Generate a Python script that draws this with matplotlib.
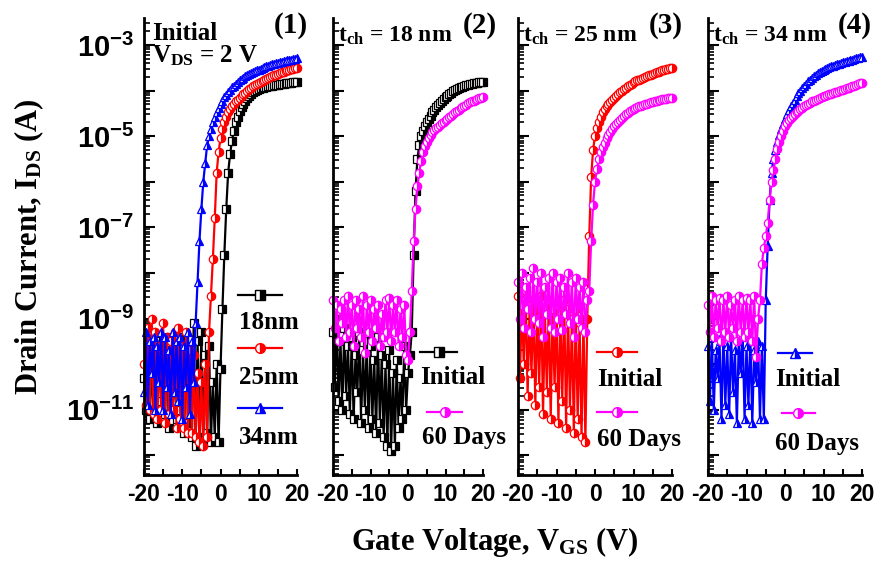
import numpy as np
import matplotlib
matplotlib.use('Agg')
import matplotlib.pyplot as plt
from matplotlib.ticker import FixedLocator, LogLocator, MultipleLocator, FuncFormatter, NullFormatter

plt.rcParams['font.family'] = 'Liberation Serif'
plt.rcParams['font.weight'] = 'bold'
plt.rcParams['axes.labelweight'] = 'bold'
plt.rcParams['axes.unicode_minus'] = False
plt.rcParams['mathtext.fontset'] = 'custom'
plt.rcParams['mathtext.rm'] = 'Liberation Serif:bold'
plt.rcParams['mathtext.it'] = 'Liberation Serif:bold'
plt.rcParams['mathtext.bf'] = 'Liberation Serif:bold'
plt.rcParams['mathtext.sf'] = 'Liberation Sans:bold'
plt.rcParams['mathtext.default'] = 'rm'

# gate voltage sweep (V), 0.5 V steps
vgs = np.arange(-20, 20.25, 0.5)

# log10 of drain current (A); each row covers 5 V (-20..-15.5, -15..-10.5, ...), last value at 20 V
# panel 1, initial devices
ids_18nm_p1 = [-10.3, -11.0, -9.6, -11.2, -10.0, -11.0, -9.8, -11.3, -9.5, -10.8,
               -9.9, -11.1, -9.7, -11.4, -9.4, -11.0, -10.1, -11.2, -9.7, -11.0,
               -9.4, -11.5, -9.6, -11.3, -9.8, -11.6, -9.1, -11.8, -9.5, -11.6,
               -9.3, -11.7, -9.8, -11.5, -9.6, -11.7, -10.4, -11.6, -10.0, -11.7,
               -10.1, -8.8, -7.6, -6.6, -5.8, -5.4, -5.1, -4.88, -4.7, -4.57,
               -4.45, -4.36, -4.29, -4.22, -4.16, -4.11, -4.07, -4.04, -4.01, -3.99,
               -3.97, -3.955, -3.94, -3.93, -3.92, -3.91, -3.9, -3.89, -3.88, -3.875,
               -3.87, -3.86, -3.855, -3.85, -3.84, -3.835, -3.83, -3.825, -3.82, -3.815,
               -3.81]
ids_25nm_p1 = [-10.0, -10.9, -9.2, -11.0, -9.0, -11.1, -9.3, -11.2, -9.6, -11.0,
               -9.1, -11.3, -9.4, -11.1, -9.5, -11.0, -9.3, -11.4, -9.2, -11.2,
               -9.6, -11.4, -9.3, -11.5, -9.7, -11.5, -9.8, -11.6, -10.2, -11.7,
               -10.4, -11.8, -10.0, -11.6, -9.3, -8.5, -7.7, -6.8, -5.8, -5.35,
               -5.05, -4.85, -4.7, -4.58, -4.48, -4.41, -4.34, -4.29, -4.24, -4.2,
               -4.16, -4.12, -4.08, -4.045, -4.01, -3.975, -3.94, -3.91, -3.88, -3.855,
               -3.83, -3.81, -3.79, -3.77, -3.75, -3.73, -3.71, -3.69, -3.67, -3.655,
               -3.64, -3.62, -3.6, -3.585, -3.57, -3.56, -3.55, -3.535, -3.52, -3.51,
               -3.5]
ids_34nm_p1 = [-10.6, -9.3, -10.9, -9.5, -10.2, -9.4, -11.0, -9.6, -10.4, -9.3,
               -11.0, -9.4, -10.5, -9.7, -11.1, -9.3, -10.6, -9.5, -10.8, -9.4,
               -11.2, -9.6, -10.5, -9.3, -11.1, -9.5, -10.4, -9.1, -8.2, -7.3,
               -6.6, -6.0, -5.6, -5.2, -5.0, -4.84, -4.7, -4.58, -4.47, -4.38,
               -4.3, -4.22, -4.15, -4.09, -4.03, -3.98, -3.93, -3.89, -3.85, -3.81,
               -3.78, -3.75, -3.72, -3.69, -3.66, -3.64, -3.62, -3.6, -3.58, -3.56,
               -3.54, -3.52, -3.5, -3.485, -3.47, -3.455, -3.44, -3.425, -3.41, -3.4,
               -3.39, -3.38, -3.37, -3.36, -3.35, -3.34, -3.33, -3.32, -3.31, -3.3,
               -3.29]

# panels 2-4, initial vs after 60 days
ids_18nm_init = [-9.3, -10.5, -9.0, -10.8, -9.5, -11.0, -9.2, -10.7, -9.6, -11.1,
                 -9.4, -11.2, -9.8, -10.6, -9.3, -11.3, -9.7, -11.0, -9.5, -11.4,
                 -9.6, -11.2, -9.9, -11.5, -9.4, -11.3, -9.8, -11.6, -10.0, -11.8,
                 -9.7, -11.9, -10.2, -11.8, -9.9, -11.4, -10.3, -11.2, -9.6, -11.0,
                 -10.2, -9.8, -9.3, -7.6, -6.2, -5.5, -5.2, -5.0, -4.88, -4.78,
                 -4.7, -4.62, -4.55, -4.48, -4.42, -4.37, -4.32, -4.27, -4.22, -4.18,
                 -4.15, -4.11, -4.08, -4.05, -4.02, -3.995, -3.97, -3.95, -3.93, -3.915,
                 -3.9, -3.885, -3.87, -3.86, -3.85, -3.84, -3.83, -3.825, -3.82, -3.815,
                 -3.81]
ids_18nm_60d = [-8.6, -9.2, -8.7, -9.5, -8.8, -9.1, -8.6, -9.4, -8.5, -9.3,
                -8.7, -9.6, -8.6, -9.2, -8.8, -9.4, -8.5, -9.75, -8.7, -9.3,
                -8.6, -9.5, -8.8, -9.2, -8.7, -9.6, -8.9, -9.4, -8.6, -9.3,
                -8.55, -9.5, -8.7, -9.3, -8.6, -9.6, -8.8, -9.4, -8.7, -9.8,
                -9.9, -9.3, -8.4, -7.3, -6.6, -6.1, -5.8, -5.55, -5.35, -5.22,
                -5.12, -5.05, -4.98, -4.92, -4.87, -4.83, -4.79, -4.75, -4.71, -4.68,
                -4.65, -4.62, -4.58, -4.55, -4.51, -4.48, -4.45, -4.42, -4.39, -4.36,
                -4.33, -4.31, -4.28, -4.26, -4.24, -4.22, -4.2, -4.18, -4.17, -4.155,
                -4.14]
ids_25nm_init = [-8.5, -10.3, -8.7, -10.0, -8.4, -10.7, -8.8, -10.2, -8.6, -10.9,
                 -8.7, -10.5, -8.5, -11.1, -8.9, -10.6, -8.6, -11.2, -8.8, -10.5,
                 -8.7, -11.3, -8.9, -10.8, -8.6, -11.4, -8.8, -11.0, -9.0, -11.5,
                 -8.8, -11.2, -9.1, -11.6, -9.0, -11.7, -9.0, -7.2, -5.9, -5.3,
                 -5.0, -4.82, -4.68, -4.57, -4.48, -4.41, -4.35, -4.3, -4.25, -4.2,
                 -4.16, -4.12, -4.08, -4.04, -4.0, -3.97, -3.94, -3.91, -3.88, -3.85,
                 -3.82, -3.8, -3.78, -3.76, -3.74, -3.72, -3.7, -3.685, -3.67, -3.65,
                 -3.63, -3.615, -3.6, -3.585, -3.57, -3.56, -3.55, -3.535, -3.52, -3.51,
                 -3.5]
ids_25nm_60d = [-8.2, -9.0, -8.0, -9.2, -8.3, -8.8, -8.1, -9.3, -7.9, -9.0,
                -8.2, -9.1, -8.0, -9.4, -8.3, -8.9, -8.1, -9.2, -8.0, -9.3,
                -8.2, -9.0, -8.1, -9.25, -8.3, -8.9, -8.0, -9.1, -8.2, -9.4,
                -8.1, -9.0, -8.3, -9.2, -8.2, -9.3, -8.6, -8.4, -7.3, -6.5,
                -6.0, -5.72, -5.5, -5.35, -5.24, -5.14, -5.05, -4.97, -4.9, -4.84,
                -4.78, -4.73, -4.68, -4.64, -4.6, -4.56, -4.52, -4.49, -4.46, -4.435,
                -4.41, -4.39, -4.37, -4.35, -4.33, -4.315, -4.3, -4.285, -4.27, -4.26,
                -4.25, -4.235, -4.22, -4.21, -4.2, -4.195, -4.19, -4.18, -4.17, -4.165,
                -4.16]
ids_34nm_init = [-9.6, -10.8, -9.4, -11.0, -9.7, -10.3, -9.5, -11.2, -9.3, -10.9,
                 -9.6, -11.1, -9.4, -10.6, -9.7, -11.3, -9.5, -10.2, -9.3, -11.2,
                 -9.6, -10.9, -9.4, -11.3, -9.7, -10.4, -9.5, -11.2, -9.6, -11.2,
                 -8.6, -7.4, -6.4, -5.8, -5.5, -5.3, -5.12, -4.98, -4.85, -4.73,
                 -4.62, -4.52, -4.43, -4.35, -4.27, -4.2, -4.13, -4.06, -4.0, -3.95,
                 -3.9, -3.85, -3.8, -3.76, -3.72, -3.68, -3.65, -3.62, -3.59, -3.57,
                 -3.55, -3.53, -3.51, -3.49, -3.47, -3.455, -3.44, -3.425, -3.41, -3.4,
                 -3.385, -3.37, -3.36, -3.345, -3.33, -3.32, -3.305, -3.29, -3.28, -3.27,
                 -3.26]
ids_34nm_60d = [-8.7, -9.3, -8.5, -9.4, -8.6, -9.2, -8.55, -9.5, -8.6, -9.3,
                -8.5, -9.4, -8.7, -9.2, -8.6, -9.5, -8.5, -9.3, -8.6, -9.4,
                -8.55, -9.3, -8.6, -9.5, -8.5, -9.85, -9.0, -8.6, -7.8, -7.45,
                -7.2, -6.9, -6.4, -6.0, -5.75, -5.5, -5.28, -5.12, -5.0, -4.88,
                -4.78, -4.71, -4.65, -4.6, -4.55, -4.51, -4.47, -4.44, -4.41, -4.38,
                -4.35, -4.32, -4.29, -4.265, -4.24, -4.22, -4.2, -4.18, -4.16, -4.145,
                -4.13, -4.115, -4.1, -4.085, -4.07, -4.055, -4.04, -4.025, -4.01, -3.995,
                -3.98, -3.965, -3.95, -3.935, -3.92, -3.905, -3.89, -3.875, -3.86, -3.845,
                -3.83]

decades = [-12, -11, -10, -9, -8, -7, -6, -5, -4, -3]
panel_tags = ['(1)', '(2)', '(3)', '(4)']
panel_titles = [None, r't$_{\mathbf{ch}}$ = 18 nm', r't$_{\mathbf{ch}}$ = 25 nm',
                r't$_{\mathbf{ch}}$ = 34 nm']

BLACK, RED, BLUE, MAG = '#000000', '#ff0000', '#0000ff', '#ff00ff'

W, H = 876, 562
fig = plt.figure(figsize=(W / 100, H / 100), dpi=100)

# axes boxes in pixels (left, right); top 18, bottom 475
boxes = [(144, 297), (333, 483), (518, 672), (708, 862)]
top_px, bot_px = 18, 475


def ytick_label(val, pos):
    e = int(round(np.log10(val)))
    if e % 2 == 0:
        return ''
    return r'$\mathsf{10^{%d}}$' % e


def style_axes(ax, first):
    ax.set_yscale('log')
    ax.set_xlim(-20, 20)
    ax.set_ylim(10 ** -12.43, 10 ** -2.41)
    for s in ['top', 'right']:
        ax.spines[s].set_visible(False)
    for s in ['left', 'bottom']:
        ax.spines[s].set_linewidth(2.0)
    ax.xaxis.set_major_locator(MultipleLocator(10))
    ax.xaxis.set_minor_locator(MultipleLocator(5))
    ax.yaxis.set_major_locator(FixedLocator([10.0 ** d for d in decades]))
    ax.yaxis.set_minor_locator(LogLocator(base=10, subs=np.arange(2, 10), numticks=20))
    ax.yaxis.set_minor_formatter(NullFormatter())
    ax.tick_params(axis='x', which='both', direction='in', length=4, width=1.5,
                   pad=6)
    ax.tick_params(axis='y', which='major', direction='in', length=8, width=1.5, pad=7)
    ax.tick_params(axis='y', which='minor', direction='in', length=4, width=1.2)
    for lab in ax.get_xticklabels():
        lab.set_fontfamily('Liberation Sans')
        lab.set_fontsize(16.5)
        lab.set_fontweight('bold')
    if first:
        ax.yaxis.set_major_formatter(FuncFormatter(ytick_label))
        ax.tick_params(axis='y', labelsize=21)
    else:
        ax.yaxis.set_major_formatter(NullFormatter())


def draw_curve(ax, y_log, color, marker):
    ax.plot(vgs, 10.0 ** np.array(y_log), color=color, lw=1.6, marker=marker, ms=6,
            fillstyle='right', markerfacecolor=color, markerfacecoloralt='white',
            markeredgecolor=color, markeredgewidth=0.9, clip_on=False)


def legend_entry(ax, x0, x1, y, color, marker, label, tx, ty):
    ax.plot([x0, x1], [y, y], transform=ax.transAxes, color=color, lw=1.6, clip_on=False)
    ax.plot([(x0 + x1) / 2], [y], transform=ax.transAxes, color=color, marker=marker,
            ms=7, fillstyle='right', markerfacecolor=color, markerfacecoloralt='white',
            markeredgecolor=color, markeredgewidth=1.0, clip_on=False)
    ax.text(tx, ty, label, transform=ax.transAxes, fontsize=18, fontweight='bold',
            ha='left', va='center')


axes = []
for i, (l, r) in enumerate(boxes):
    ax = fig.add_axes([l / W, 1 - bot_px / H, (r - l) / W, (bot_px - top_px) / H])
    style_axes(ax, i == 0)
    axes.append(ax)

# panel 1
ax = axes[0]
draw_curve(ax, ids_18nm_p1, BLACK, 's')
draw_curve(ax, ids_25nm_p1, RED, 'o')
draw_curve(ax, ids_34nm_p1, BLUE, '^')
legend_entry(ax, 0.614, 0.902, 0.394, BLACK, 's', '18nm', 0.62, 0.333)
legend_entry(ax, 0.614, 0.902, 0.278, RED, 'o', '25nm', 0.62, 0.214)
legend_entry(ax, 0.614, 0.902, 0.147, BLUE, '^', '34nm', 0.62, 0.081)
ax.text(0.05, 0.952, 'Initial', transform=ax.transAxes, fontsize=18, va='baseline')
ax.text(0.05, 0.902, r'V$_{\mathbf{DS}}$ = 2 V', transform=ax.transAxes, fontsize=18,
        va='baseline')
ax.set_ylabel(r'Drain Current, I$_{\mathbf{DS}}$ (A)', fontsize=22)
ax.yaxis.set_label_coords(-0.64, 0.5)

# panel 2
ax = axes[1]
draw_curve(ax, ids_18nm_init, BLACK, 's')
draw_curve(ax, ids_18nm_60d, MAG, 'o')
legend_entry(ax, 0.58, 0.827, 0.269, BLACK, 's', 'Initial', 0.58, 0.214)
legend_entry(ax, 0.627, 0.86, 0.138, MAG, 'o', '60 Days', 0.593, 0.081)

# panel 3
ax = axes[2]
draw_curve(ax, ids_25nm_init, RED, 'o')
draw_curve(ax, ids_25nm_60d, MAG, 'o')
legend_entry(ax, 0.513, 0.773, 0.269, RED, 'o', 'Initial', 0.513, 0.208)
legend_entry(ax, 0.513, 0.773, 0.138, MAG, 'o', '60 Days', 0.513, 0.077)

# panel 4
ax = axes[3]
draw_curve(ax, ids_34nm_init, BLUE, '^')
draw_curve(ax, ids_34nm_60d, MAG, 'o')
legend_entry(ax, 0.455, 0.675, 0.267, BLUE, '^', 'Initial', 0.435, 0.208)
legend_entry(ax, 0.48, 0.695, 0.136, MAG, 'o', '60 Days', 0.435, 0.07)

tag_x = [0.96, 0.98, 0.961, 0.955]
for i, ax in enumerate(axes):
    ax.text(tag_x[i], 0.967, panel_tags[i], transform=ax.transAxes, fontsize=21,
            ha='center', va='baseline')
    if panel_titles[i]:
        ax.text(0.03, 0.948, panel_titles[i], transform=ax.transAxes, fontsize=17,
                ha='left', va='baseline')

fig.text(495 / W, 1 - 550 / H, r'Gate Voltage, V$_{\mathbf{GS}}$ (V)', fontsize=22,
         ha='center', va='baseline')

fig.savefig('out.png', dpi=100)
